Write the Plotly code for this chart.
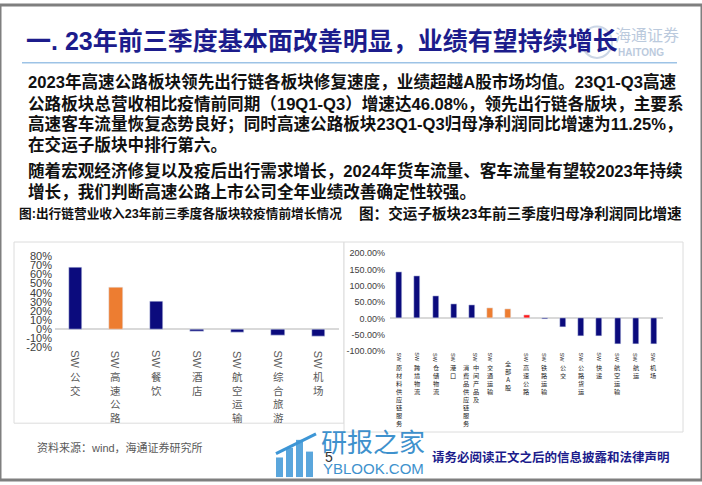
import plotly.graph_objects as go

W, H = 702, 485

# ---------------- data ----------------
left_cats = ["SW公交", "SW高速公路", "SW餐饮", "SW酒店", "SW航空运输", "SW综合旅游", "SW机场"]
left_vals = [68, 46.08, 30, -2, -4, -7, -8]
left_colors = ["#0b0b7d", "#ED7D31", "#0b0b7d", "#0b0b7d", "#0b0b7d", "#0b0b7d", "#0b0b7d"]
left_ticks = [80, 70, 60, 50, 40, 30, 20, 10, 0, -10, -20]

right_cats = ["SW原材料供应链服务", "SW跨境物流", "SW仓储物流", "SW港口",
              "SW中间产品及消费品供应链服务", "SW交通运输", "全部A股", "SW高速公路",
              "SW铁路运输", "SW公交", "SW公路货运", "SW快递", "SW航空运输", "SW航运", "SW机场"]
right_vals = [143, 130, 67, 43, 40, 32, 29, 11.25, -2, -28, -55, -55, -78, -78, -79]
right_colors = ["#0b0b7d"] * 5 + ["#ED7D31", "#ED7D31", "#FF1A1A"] + ["#0b0b7d"] * 7
right_ticks = [200, 150, 100, 50, 0, -50, -100]


def px(x):
    return x / W


def py(y):
    return 1 - y / H


CJK = "Liberation Sans, Noto Sans CJK SC"
fig = go.Figure()

fig.add_trace(go.Bar(x=left_cats, y=left_vals, marker_color=left_colors, width=0.33,
                     xaxis="x", yaxis="y", showlegend=False))
fig.add_trace(go.Bar(x=right_cats, y=right_vals, marker_color=right_colors, width=0.33,
                     xaxis="x2", yaxis="y2", showlegend=False))

# left axes: 0% at y=331, 0.93 px per %
l_top, l_bot = 331 - 81 * 0.93, 331 + 21 * 0.93
# right axes: 0% at y=320, 0.333 px per %
r_top, r_bot = 320 - 203 / 3, 320 + 103 / 3

fig.update_layout(
    width=W, height=H, margin=dict(l=0, r=0, t=0, b=0),
    paper_bgcolor="white", plot_bgcolor="rgba(0,0,0,0)",
    bargap=0,
    xaxis=dict(domain=[px(55), px(339)], range=[-0.5, 6.5], showticklabels=False,
               showgrid=False, zeroline=False, showline=False, anchor="y", type="category"),
    yaxis=dict(domain=[py(l_bot), py(l_top)], range=[-21, 81], tickvals=left_ticks,
               ticktext=[f"{v}%" for v in left_ticks], showgrid=False,
               zeroline=True, zerolinecolor="#d9d9d9", zerolinewidth=1.5, showline=False,
               tickfont=dict(family="Liberation Sans", size=11, color="#404040"),
               anchor="x", ticklabelstandoff=2),
    xaxis2=dict(domain=[px(390), px(663)], range=[-0.5, 14.5], showticklabels=False,
                showgrid=False, zeroline=False, showline=False, anchor="y2", type="category"),
    yaxis2=dict(domain=[py(r_bot), py(r_top)], range=[-103, 203], tickvals=right_ticks,
                ticktext=[f"{v:.2f}%" for v in right_ticks], showgrid=False,
                zeroline=True, zerolinecolor="#d9d9d9", zerolinewidth=1.5, showline=False,
                tickfont=dict(family="Liberation Sans", size=9, color="#404040"),
                anchor="x2", ticklabelstandoff=4),
)

shapes = []
# slide frame
shapes.append(dict(type="rect", xref="paper", yref="paper", x0=0, x1=1, y0=0, y1=1,
                   line=dict(color="#7f7f7f", width=3), layer="above"))
# title underline
shapes.append(dict(type="line", xref="paper", yref="paper", x0=px(22), x1=px(677),
                   y0=py(59), y1=py(59), line=dict(color="#9dc3e6", width=1.5)))
# chart boxes
shapes.append(dict(type="rect", xref="paper", yref="paper", x0=px(14), x1=px(344),
                   y0=py(427), y1=py(242), line=dict(color="#dcdcdc", width=1),
                   fillcolor="white", layer="below"))
shapes.append(dict(type="rect", xref="paper", yref="paper", x0=px(344), x1=px(683),
                   y0=py(436), y1=py(242), line=dict(color="#dcdcdc", width=1),
                   fillcolor="white", layer="below"))
# logo emblem (top right)
shapes.append(dict(type="circle", xref="paper", yref="paper", x0=px(582), x1=px(612),
                   y0=py(54), y1=py(22), line=dict(color="#a9bcd6", width=2), opacity=0.6))
# watermark icon
for i, (x0, top) in enumerate([(276, 462), (286, 452), (296, 444), (306, 456)]):
    shapes.append(dict(type="rect", xref="paper", yref="paper", x0=px(x0), x1=px(x0 + 7),
                       y0=py(482), y1=py(top), fillcolor="#3d96d6", line=dict(width=0),
                       opacity=0.85))
shapes.append(dict(type="line", xref="paper", yref="paper", x0=px(276), x1=px(316),
                   y0=py(458), y1=py(438), line=dict(color="#3d96d6", width=3)))
fig.update_layout(shapes=shapes)

ann = []
# title
ann.append(dict(xref="paper", yref="paper", x=px(24), y=py(37), xanchor="left", yanchor="middle",
                text="<b>一. 23年前三季度基本面改善明显，业绩有望持续增长</b>", showarrow=False,
                font=dict(family=CJK, size=25, color="#1c1c8c")))
# logo text
ann.append(dict(xref="paper", yref="paper", x=px(647), y=py(30), xanchor="center", yanchor="middle",
                text="海通证券", showarrow=False, opacity=0.6,
                font=dict(family="Noto Sans CJK SC", size=16, color="#8fa8c8")))
ann.append(dict(xref="paper", yref="paper", x=px(641), y=py(48), xanchor="center", yanchor="middle",
                text="<b>HAITONG</b>", showarrow=False, opacity=0.6,
                font=dict(family="Liberation Sans", size=10, color="#8fa8c8")))

# paragraphs
para_lines = [
    ("2023年高速公路板块领先出行链各板块修复速度，业绩超越A股市场均值。23Q1-Q3高速", 79),
    ("公路板块总营收相比疫情前同期（19Q1-Q3）增速达46.08%，领先出行链各版块，主要系", 101),
    ("高速客车流量恢复态势良好；同时高速公路板块23Q1-Q3归母净利润同比增速为11.25%，", 122),
    ("在交运子版块中排行第六。", 143),
    ("随着宏观经济修复以及疫后出行需求增长，2024年货车流量、客车流量有望较2023年持续", 170),
    ("增长，我们判断高速公路上市公司全年业绩改善确定性较强。", 191),
]
for t, y in para_lines:
    ann.append(dict(xref="paper", yref="paper", x=px(26), y=py(y), xanchor="left", yanchor="middle",
                    text=f"<b>{t}</b>", showarrow=False,
                    font=dict(family=CJK, size=16.6, color="#111111")))

# chart titles
ann.append(dict(xref="paper", yref="paper", x=px(17), y=py(213), xanchor="left", yanchor="middle",
                text="<b>图:出行链营业收入23年前三季度各版块较疫情前增长情况</b>", showarrow=False,
                font=dict(family=CJK, size=12.7, color="#111111")))
ann.append(dict(xref="paper", yref="paper", x=px(357), y=py(213), xanchor="left", yanchor="middle",
                text="<b>图：交运子板块23年前三季度归母净利润同比增速</b>", showarrow=False,
                font=dict(family=CJK, size=14.6, color="#111111")))

# left category labels (vertical)
for c in left_cats:
    ann.append(dict(xref="x", yref="paper", x=c, y=py(362), xanchor="center", yanchor="middle",
                    text="SW", textangle=90, showarrow=False,
                    font=dict(family="Liberation Sans", size=11, color="#595959")))
    ann.append(dict(xref="x", yref="paper", x=c, y=py(370), xanchor="center", yanchor="top",
                    text="<br>".join(c[2:]), showarrow=False,
                    font=dict(family="Noto Sans CJK SC", size=10.5, color="#595959")))

# right category labels (vertical, tiny)
for c in right_cats:
    if c.startswith("SW"):
        body = c[2:]
        if len(body) > 8:
            first, second = body[:5], body[5:]
            ann.append(dict(xref="x2", yref="paper", x=c, y=py(360), xanchor="center",
                            yanchor="middle", xshift=4, text="SW", textangle=90, showarrow=False,
                            font=dict(family="Liberation Sans", size=5.5, color="#222222")))
            ann.append(dict(xref="x2", yref="paper", x=c, y=py(364), xanchor="center",
                            yanchor="top", xshift=4, text="<br>".join(first), showarrow=False,
                            font=dict(family="Noto Sans CJK SC", size=6.2, color="#222222")))
            ann.append(dict(xref="x2", yref="paper", x=c, y=py(364), xanchor="center",
                            yanchor="top", xshift=-5, text="<br>".join(second), showarrow=False,
                            font=dict(family="Noto Sans CJK SC", size=6.2, color="#222222")))
            continue
        ann.append(dict(xref="x2", yref="paper", x=c, y=py(360), xanchor="center",
                        yanchor="middle", text="SW", textangle=90, showarrow=False,
                        font=dict(family="Liberation Sans", size=5.5, color="#222222")))
        ann.append(dict(xref="x2", yref="paper", x=c, y=py(364), xanchor="center",
                        yanchor="top", text="<br>".join(body), showarrow=False,
                        font=dict(family="Noto Sans CJK SC", size=6.2, color="#222222")))
    else:
        ann.append(dict(xref="x2", yref="paper", x=c, y=py(359), xanchor="center",
                        yanchor="top", text="<br>".join(c), showarrow=False,
                        font=dict(family="Noto Sans CJK SC", size=6.2, color="#222222")))

# footer
ann.append(dict(xref="paper", yref="paper", x=px(35), y=py(452), xanchor="left", yanchor="middle",
                text="资料来源：wind，海通证券研究所", showarrow=False,
                font=dict(family=CJK, size=11, color="#595959")))
ann.append(dict(xref="paper", yref="paper", x=px(373), y=py(445), xanchor="center", yanchor="middle",
                text="研报之家", showarrow=False, opacity=0.9,
                font=dict(family="Noto Sans CJK SC", size=26, color="#2a86c8")))
ann.append(dict(xref="paper", yref="paper", x=px(373), y=py(473), xanchor="center", yanchor="middle",
                text="YBLOOK.COM", showarrow=False, opacity=0.9,
                font=dict(family="Liberation Sans", size=15, color="#2a86c8")))
ann.append(dict(xref="paper", yref="paper", x=px(329), y=py(462), xanchor="center", yanchor="middle",
                text="5", showarrow=False,
                font=dict(family="Liberation Sans", size=14, color="#333333")))
ann.append(dict(xref="paper", yref="paper", x=px(551), y=py(462), xanchor="center", yanchor="middle",
                text="<b>请务必阅读正文之后的信息披露和法律声明</b>", showarrow=False,
                font=dict(family=CJK, size=12.5, color="#1c1c8c")))

fig.update_layout(annotations=ann)
fig.write_html("out.html")
